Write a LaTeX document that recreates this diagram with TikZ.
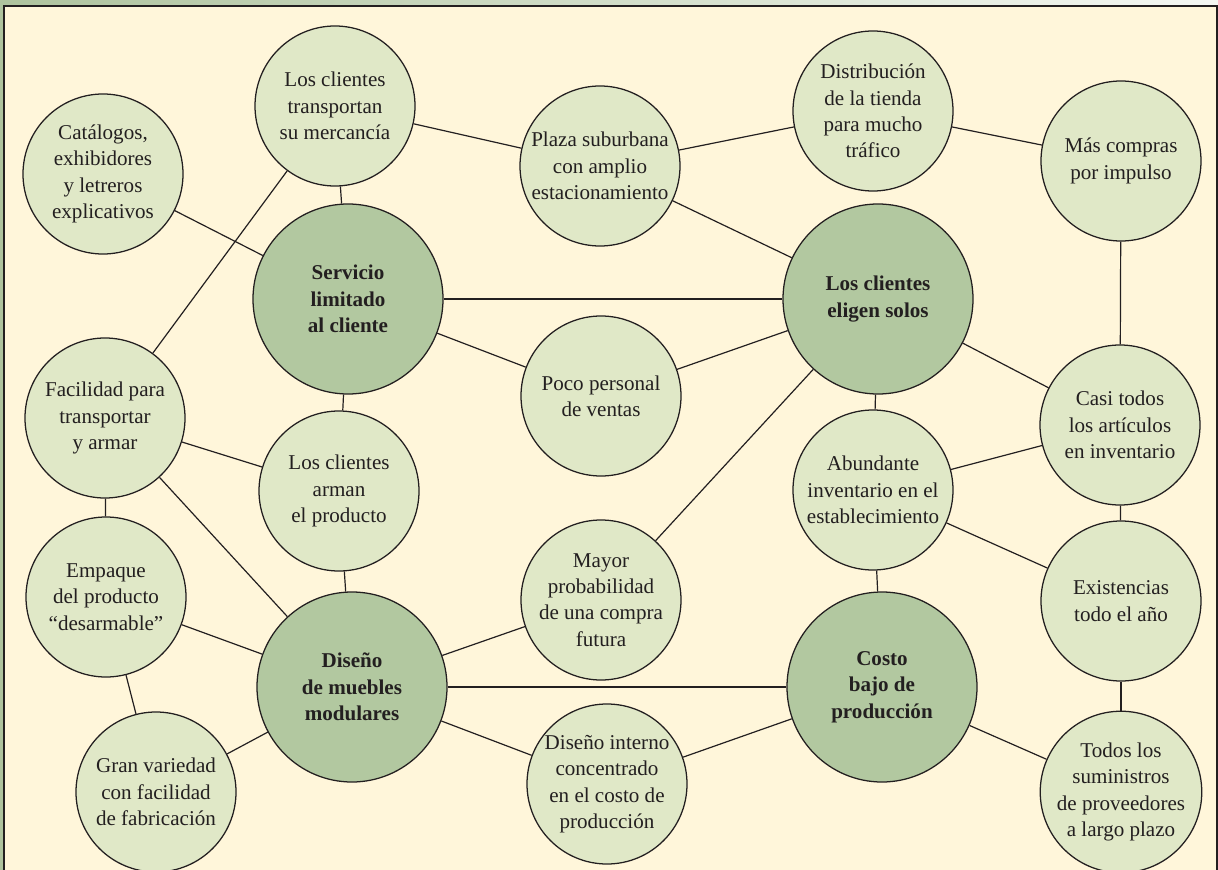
\documentclass[tikz,border=0pt]{standalone}
\usepackage{fontspec}
\setmainfont{Liberation Serif}
\definecolor{cream}{HTML}{FFF6DA}
\definecolor{lightc}{HTML}{E0E8C7}
\definecolor{darkc}{HTML}{B2C8A0}
\definecolor{ink}{HTML}{231F20}
\definecolor{framegreen}{HTML}{AEC39E}
\tikzset{
  small/.style={circle, draw=ink, line width=0.95pt, fill=lightc, minimum size=120pt,
    inner sep=0pt, align=center, text=ink, font=\fontsize{15.8}{19.8}\selectfont},
  big/.style={small, fill=darkc, minimum size=142.5pt, font=\fontsize{15.8}{19.8}\selectfont\bfseries},
  link/.style={draw=ink, line width=0.9pt},
  thick link/.style={draw=ink, line width=1.9pt}
}
\begin{document}
\begin{tikzpicture}[x=0.75pt,y=-0.75pt]
\useasboundingbox (0,0) rectangle (1218,870);
\fill[framegreen] (0,0) rectangle (1218,870);
\shade[left color=framegreen, right color=framegreen!12!white] (0,0) rectangle (1218,6);
\draw[draw=ink, line width=1.1pt, fill=cream] (4,6) rectangle (1217,885);

\node[small] (cat) at (103,174) {Catálogos,\\exhibidores\\y letreros\\explicativos};
\node[small] (trans) at (335,106) {Los clientes\\transportan\\su mercancía};
\node[small] (plaza) at (600,166) {Plaza suburbana\\con amplio\\estacionamiento};
\node[small] (dist) at (873,111) {Distribución\\de la tienda\\para mucho\\tráfico};
\node[small] (mas) at (1121,161) {Más compras\\por impulso};
\node[big] (serv) at (348,299) {Servicio\\limitado\\al cliente};
\node[big] (elig) at (878,299) {Los clientes\\eligen solos};
\node[small] (poco) at (601,396) {Poco personal\\de ventas};
\node[small] (fac) at (105,418) {Facilidad para\\transportar\\y armar};
\node[small] (arman) at (339,491) {Los clientes\\arman\\el producto};
\node[small] (abund) at (873,490) {Abundante\\inventario en el\\establecimiento};
\node[small] (casi) at (1120,425) {Casi todos\\los artículos\\en inventario};
\node[small] (emp) at (106,597) {Empaque\\del producto\\“desarmable”};
\node[small] (mayor) at (601,600) {Mayor\\probabilidad\\de una compra\\futura};
\node[small] (exist) at (1121,601) {Existencias\\todo el año};
\node[big] (dise) at (352,687) {Diseño\\de muebles\\modulares};
\node[big] (costo) at (882,687) {Costo\\bajo de\\producción};
\node[small] (gran) at (156,792) {Gran variedad\\con facilidad\\de fabricación};
\node[small] (interno) at (607,784) {Diseño interno\\concentrado\\en el costo de\\producción};
\node[small] (todos) at (1121,792) {Todos los\\suministros\\de proveedores\\a largo plazo};

\draw[link] (cat) -- (serv);
\draw[link] (trans) -- (serv);
\draw[link] (trans) -- (plaza);
\draw[link] (trans) -- (fac);
\draw[link] (plaza) -- (dist);
\draw[link] (plaza) -- (elig);
\draw[link] (dist) -- (mas);
\draw[link] (mas) -- (casi);
\draw[thick link] (serv) -- (elig);
\draw[link] (serv) -- (poco);
\draw[link] (poco) -- (elig);
\draw[link] (serv) -- (arman);
\draw[link] (elig) -- (casi);
\draw[link] (elig) -- (abund);
\draw[link] (elig) -- (mayor);
\draw[link] (fac) -- (arman);
\draw[link] (fac) -- (emp);
\draw[link] (fac) -- (dise);
\draw[link] (arman) -- (dise);
\draw[link] (abund) -- (casi);
\draw[link] (abund) -- (exist);
\draw[link] (abund) -- (costo);
\draw[link] (casi) -- (exist);
\draw[link] (emp) -- (dise);
\draw[link] (emp) -- (gran);
\draw[link] (gran) -- (dise);
\draw[link] (mayor) -- (dise);
\draw[thick link] (dise) -- (costo);
\draw[link] (dise) -- (interno);
\draw[link] (interno) -- (costo);
\draw[link] (costo) -- (todos);
\draw[link] (exist) -- (todos);
\end{tikzpicture}
\end{document}
